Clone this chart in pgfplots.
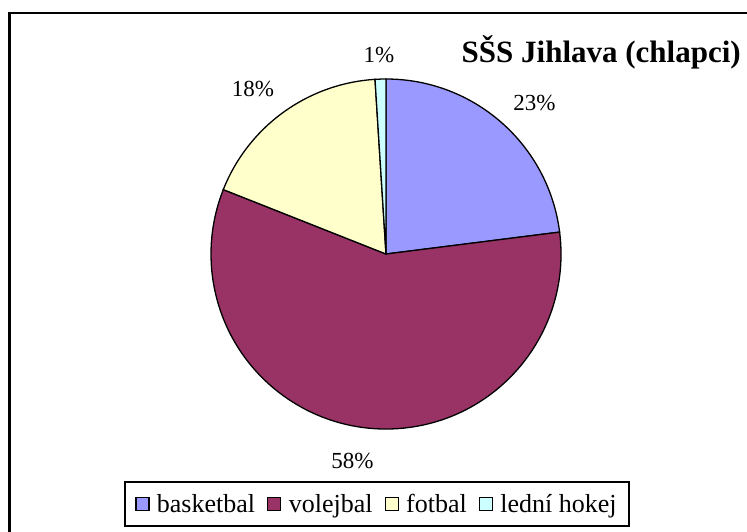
\documentclass[border=0pt]{standalone}
\usepackage{fontspec}
\setmainfont{Liberation Serif}
\usepackage{pgfplots}
\usepackage{pgfplotstable}
\pgfplotsset{compat=1.18}

\definecolor{cbask}{HTML}{9999FF}
\definecolor{cvol}{HTML}{993366}
\definecolor{cfot}{HTML}{FFFFCC}
\definecolor{chok}{HTML}{CCFFFF}

\newcommand\pctfont{\fontsize{23}{27}\selectfont}
\newcommand\legfont{\fontsize{26}{30}\selectfont}
\newcommand\titfont{\fontsize{31}{35}\selectfont\bfseries}

% podíly v procentech
\pgfplotstableread{
sport value
basketbal 23
volejbal 58
fotbal 18
hokej 1
}\piedata

\pgfplotstablegetelem{0}{value}\of\piedata \let\vA\pgfplotsretval
\pgfplotstablegetelem{1}{value}\of\piedata \let\vB\pgfplotsretval
\pgfplotstablegetelem{2}{value}\of\piedata \let\vC\pgfplotsretval
\pgfplotstablegetelem{3}{value}\of\piedata \let\vD\pgfplotsretval

% úhly výsečí, od 12 hodin po směru ručiček
\pgfmathsetmacro\aA{90}
\pgfmathsetmacro\aB{\aA-3.6*\vA}
\pgfmathsetmacro\aC{\aB-3.6*\vB}
\pgfmathsetmacro\aD{\aC-3.6*\vC}
\pgfmathsetmacro\aE{\aD-3.6*\vD}

\def\cx{386}
\def\cy{254}
\def\rr{175pt}

\begin{document}
\begin{tikzpicture}
\begin{axis}[
    width=747pt, height=531pt,
    scale only axis,
    xmin=0, xmax=747, ymin=0, ymax=531,
    y dir=reverse,
    axis lines=none,
    clip=false,
    legend columns=4,
    legend image code/.code={%
        \draw[#1, line width=1.3pt] (0pt,-6.5pt) rectangle (13pt,6.5pt);
        \path[draw=none, fill=none] (0pt,0pt) -- (19pt,0pt);},
    legend style={
        at={(0.5047,0.0508)}, anchor=center,
        font=\legfont, draw=black, line width=1.6pt,
        inner xsep=10pt, inner ysep=10pt,
        nodes={inner xsep=2pt},
        /tikz/every even column/.append style={column sep=10pt},
    },
]
\draw[black, line width=2.5pt] (axis cs:9.5,13) rectangle (axis cs:760,545);

\draw[fill=cbask, line width=1.3pt] (axis cs:\cx,\cy) -- ++(\aA:\rr) arc[start angle=\aA, end angle=\aB, radius=\rr] -- cycle;
\draw[fill=cvol, line width=1.3pt] (axis cs:\cx,\cy) -- ++(\aB:\rr) arc[start angle=\aB, end angle=\aC, radius=\rr] -- cycle;
\draw[fill=cfot, line width=1.3pt] (axis cs:\cx,\cy) -- ++(\aC:\rr) arc[start angle=\aC, end angle=\aD, radius=\rr] -- cycle;
\draw[fill=chok, line width=1.3pt] (axis cs:\cx,\cy) -- ++(\aD:\rr) arc[start angle=\aD, end angle=\aE, radius=\rr] -- cycle;

\node[font=\pctfont, anchor=base] at (axis cs:534.5,110) {23\%};
\node[font=\pctfont, anchor=base] at (axis cs:352.5,468) {58\%};
\node[font=\pctfont, anchor=base] at (axis cs:253,96.5) {18\%};
\node[font=\pctfont, anchor=base] at (axis cs:379,62) {1\%};
\node[font=\titfont, anchor=base east, inner sep=0pt] at (axis cs:741,62) {SŠS Jihlava (chlapci)};

\addlegendimage{fill=cbask, draw=black}
\addlegendentry{basketbal}
\addlegendimage{fill=cvol, draw=black}
\addlegendentry{volejbal}
\addlegendimage{fill=cfot, draw=black}
\addlegendentry{fotbal}
\addlegendimage{fill=chok, draw=black}
\addlegendentry{lední hokej}
\end{axis}
\pgfresetboundingbox
\path[use as bounding box] (current axis.south west) rectangle (current axis.north east);
\end{tikzpicture}
\end{document}
